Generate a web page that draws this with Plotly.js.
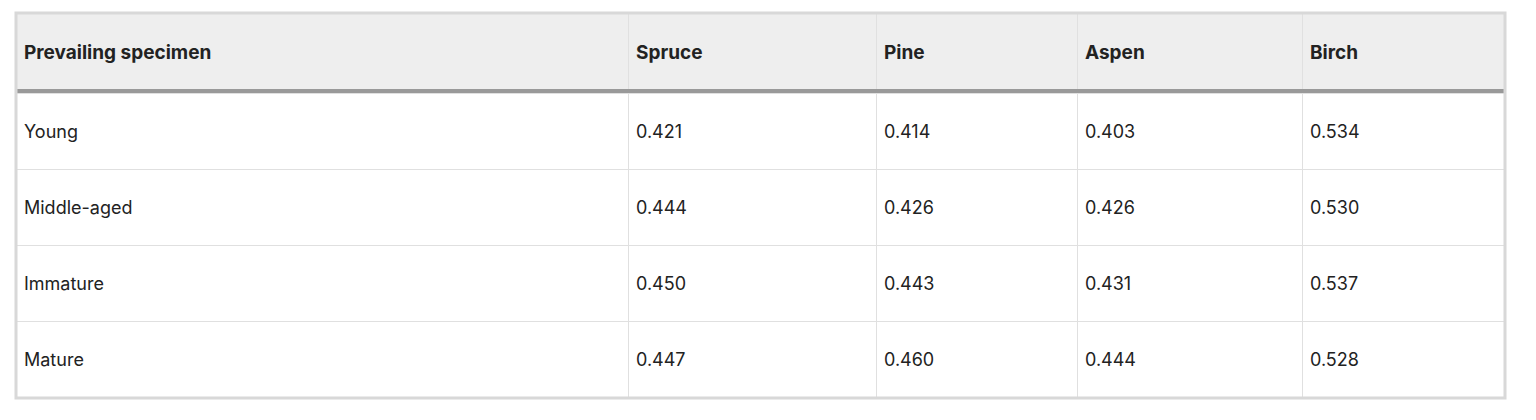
<!DOCTYPE html>
<html><head><meta charset="utf-8">
<script src="https://cdn.plot.ly/plotly-3.0.1.min.js"></script>
<style>html,body{margin:0;padding:0;background:#fff;}#chart{width:1536px;height:420px;}</style>
</head><body><div id="chart"></div>
<script>
var headers = ["Prevailing specimen", "Spruce", "Pine", "Aspen", "Birch"];
var ageGroups = ["Young", "Middle-aged", "Immature", "Mature"];
var spruce = [0.421, 0.444, 0.450, 0.447];
var pine = [0.414, 0.426, 0.443, 0.460];
var aspen = [0.403, 0.426, 0.431, 0.444];
var birch = [0.534, 0.530, 0.537, 0.528];

var cellSpacer = '<span style="font-size:14px">&nbsp;</span><br>';
var headSpacer = '<span style="font-size:13px">&nbsp;</span><br>';
var fmt = function(a){ return a.map(function(v){ return cellSpacer + v.toFixed(3); }); };

var trace = {
  type: 'table',
  columnwidth: [612, 248, 201, 225, 203],
  header: {
    values: headers.map(function(h){ return headSpacer + '<b>' + h + '</b>'; }),
    align: 'left',
    height: 80,
    fill: {color: '#eeeeee'},
    line: {color: '#e0e0e0', width: 1},
    font: {family: 'Inter, "Liberation Sans", Arial, sans-serif', size: 19, color: '#222222'}
  },
  cells: {
    values: [ageGroups.map(function(s){ return cellSpacer + s; }), fmt(spruce), fmt(pine), fmt(aspen), fmt(birch)],
    align: 'left',
    height: 76,
    fill: {color: '#ffffff'},
    line: {color: '#e0e0e0', width: 1},
    font: {family: 'Inter, "Liberation Sans", Arial, sans-serif', size: 18, color: '#222222'}
  }
};

var plotH = 385;
var layout = {
  width: 1536, height: 420,
  margin: {l: 16, r: 31, t: 13, b: 22},
  paper_bgcolor: '#ffffff',
  shapes: [
    {type: 'line', xref: 'paper', yref: 'paper', x0: 0, x1: 1,
     y0: 1 - 78/plotH, y1: 1 - 78/plotH, line: {color: '#999999', width: 4}},
    {type: 'rect', xref: 'paper', yref: 'paper', x0: 0, x1: 1, y0: 0, y1: 1,
     line: {color: '#d8d8d8', width: 3}}
  ]
};
Plotly.newPlot('chart', [trace], layout, {displayModeBar: false, staticPlot: true});
</script>
</body></html>
